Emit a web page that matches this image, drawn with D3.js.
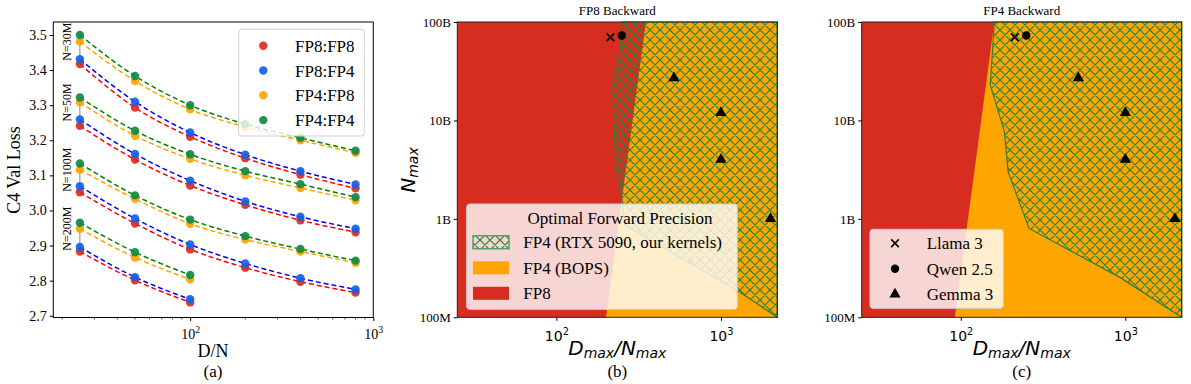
<!DOCTYPE html>
<html>
<head>
<meta charset="utf-8">
<script src="https://cdn.jsdelivr.net/npm/d3@7"></script>
<style>
  body { margin: 0; background: #fff; }
  svg { display: block; }
  .serif { font-family: "Liberation Serif", "Times New Roman", serif; }
  .math { font-family: "DejaVu Sans", sans-serif; }
</style>
</head>
<body>
<div id="chart"></div>
<script>
// ---- data ----
var ratios = [25, 50, 100, 200, 400, 800];
var configs = ["FP8:FP8", "FP8:FP4", "FP4:FP8", "FP4:FP4"];
var sizeLabels = ["N=30M", "N=50M", "N=100M", "N=200M"];

// C4 val loss, one row per config (same order as configs)
var loss30M = [
  [3.417, 3.293, 3.210, 3.149, 3.102, 3.063],
  [3.431, 3.310, 3.222, 3.159, 3.112, 3.074],
  [3.481, 3.369, 3.288, 3.238, 3.200, 3.164],
  [3.500, 3.383, 3.300, 3.246, 3.207, 3.170]
];
var loss50M = [
  [3.241, 3.145, 3.071, 3.016, 2.972, 2.938],
  [3.259, 3.161, 3.085, 3.026, 2.982, 2.948],
  [3.308, 3.213, 3.147, 3.100, 3.064, 3.029],
  [3.322, 3.227, 3.160, 3.112, 3.075, 3.038]
];
var loss100M = [
  [3.052, 2.963, 2.889, 2.837, 2.797, 2.766],
  [3.069, 2.977, 2.903, 2.849, 2.807, 2.775],
  [3.116, 3.033, 2.962, 2.917, 2.883, 2.851],
  [3.134, 3.043, 2.974, 2.927, 2.890, 2.857]
];
var loss200M = [
  [2.883, 2.801, 2.738],
  [2.896, 2.810, 2.747],
  [2.948, 2.866, 2.804],
  [2.965, 2.881, 2.816]
];
var lossGroups = [loss30M, loss50M, loss100M, loss200M];
var yTicksA = [2.7, 2.8, 2.9, 3.0, 3.1, 3.2, 3.3, 3.4, 3.5];

// precision regions, [D/N, N]
var redEdgeB = [[350, 1e11], [200, 1e8]];
var hatchB = [[249, 1e11], [245, 5.4e10], [221, 2.2e10], [223, 1.0e10], [230, 3.5e9],
              [243, 2.5e9], [260, 8.7e8], [1305, 1.8e8], [2200, 1e8], [2200, 1e11]];
var redEdgeC = [[160, 1e11], [92, 1e8]];
var hatchC = [[160, 1e11], [151, 2.3e10], [184, 7.7e9], [194, 3.0e9], [260, 8.0e8],
              [942, 2.5e8], [2200, 1e8], [2200, 1e11]];

var modelNames = ["Llama 3", "Qwen 2.5", "Gemma 3"];
var llamaPts = [[213, 7.0e10]];
var qwenPts = [[250, 7.3e10]];
var gemmaPts = [[518, 2.7e10], [1000, 1.2e10], [1000, 4e9], [2000, 1e9]];

var nTicks = [1e8, 1e9, 1e10, 1e11];
var nTickLabels = ["100M", "1B", "10B", "100B"];
var regionLabels = ["FP4 (RTX 5090, our kernels)", "FP4 (BOPS)", "FP8"];

// ---- colours ----
var dotColors = ["#dc2b20", "#1560e6", "#ffa500", "#0f8a44"];
var lineColors = ["#ff0000", "#0000ff", "#ffa500", "#008000"];
var redFill = "#d62d20", orangeFill = "#ffa500", hatchColor = "#2f7f36";

var svg = d3.select("#chart").append("svg")
  .attr("width", 1191).attr("height", 384);

var defs = svg.append("defs");
var pat = defs.append("pattern")
  .attr("id", "xhatch")
  .attr("patternUnits", "userSpaceOnUse")
  .attr("width", 10).attr("height", 10);
pat.append("path")
  .attr("d", "M0,0L10,10M10,0L0,10M-2,8L2,12M8,-2L12,2M-2,2L2,-2M8,12L12,8")
  .attr("stroke", hatchColor).attr("stroke-width", 1.2).attr("fill", "none");

function supLabel(sel, fam, size) {
  sel.each(function(d) {
    var t = d3.select(this).text("");
    t.attr("class", fam).attr("font-size", size).attr("fill", "#000");
    t.append("tspan").text("10");
    t.append("tspan").attr("dy", -size * 0.45).attr("font-size", size * 0.7)
      .text(Math.round(Math.log10(d)));
  });
}

// x marker is a stroked symbol
function drawCross(g, cx, cy) {
  g.append("path").attr("transform", `translate(${cx},${cy})`)
    .attr("d", d3.symbol().type(d3.symbolTimes).size(40)())
    .attr("fill", "none").attr("stroke", "#000").attr("stroke-width", 1.7);
}

// ================= panel (a) =================
var xA = d3.scaleLog().domain([17.9, 1000]).range([53.3, 373.3]);
var yA = d3.scaleLinear().domain([2.695, 3.537]).range([317.5, 22]);
var gA = svg.append("g");

var line = d3.line().x(d => xA(d[0])).y(d => yA(d[1])).curve(d3.curveMonotoneX);

lossGroups.forEach(function(group, gi) {
  var xs = ratios.slice(0, group[0].length);
  var first = group.map(r => r[0]);
  // gray connector at the first ratio
  gA.append("line")
    .attr("x1", xA(xs[0])).attr("x2", xA(xs[0]))
    .attr("y1", yA(d3.max(first))).attr("y2", yA(d3.min(first)))
    .attr("stroke", "#888").attr("stroke-width", 1);
  group.forEach(function(vals, ci) {
    var pts = xs.map((x, i) => [x, vals[i]]);
    gA.append("path").datum(pts)
      .attr("d", line)
      .attr("fill", "none")
      .attr("stroke", lineColors[ci])
      .attr("stroke-width", 1.5)
      .attr("stroke-dasharray", "5,3");
  });
  group.forEach(function(vals, ci) {
    gA.selectAll(null).data(xs.map((x, i) => [x, vals[i]])).enter()
      .append("circle")
      .attr("cx", d => xA(d[0])).attr("cy", d => yA(d[1]))
      .attr("r", 4.2)
      .attr("fill", dotColors[ci]).attr("opacity", 0.92);
  });
  // size label sits at the FP4:FP8 first point height
  var ly = yA(group[2][0]);
  gA.append("text").attr("class", "serif")
    .attr("font-size", 12)
    .attr("transform", `translate(${xA(xs[0]) - 9},${ly}) rotate(-90)`)
    .attr("text-anchor", "middle")
    .text(sizeLabels[gi]);
});

gA.append("g").attr("transform", "translate(0,317.5)")
  .call(d3.axisBottom(xA).tickValues([100, 1000]).tickSize(3.5).tickSizeOuter(0))
  .call(g => g.select(".domain").remove())
  .call(g => g.selectAll(".tick text").attr("dy", "1.1em").call(supLabel, "serif", 14));
var minorA = [20, 30, 40, 50, 60, 70, 80, 90, 200, 300, 400, 500, 600, 700, 800, 900];
gA.append("g").selectAll("line").data(minorA).enter().append("line")
  .attr("x1", d => xA(d)).attr("x2", d => xA(d))
  .attr("y1", 317.5).attr("y2", 319.5).attr("stroke", "#000").attr("stroke-width", 0.7);

gA.append("g").attr("transform", "translate(53.3,0)")
  .call(d3.axisLeft(yA).tickValues(yTicksA).tickFormat(d3.format(".1f")).tickSize(3.5).tickSizeOuter(0))
  .call(g => g.select(".domain").remove())
  .call(g => g.selectAll(".tick text").attr("class", "serif").attr("font-size", 14).attr("fill", "#000"));

gA.append("rect").attr("x", 53.3).attr("y", 22).attr("width", 320).attr("height", 295.5)
  .attr("fill", "none").attr("stroke", "#000").attr("stroke-width", 1);

gA.append("text").attr("class", "serif").attr("font-size", 18)
  .attr("transform", "translate(20,170) rotate(-90)").attr("text-anchor", "middle")
  .text("C4 Val Loss");
gA.append("text").attr("class", "serif").attr("font-size", 18)
  .attr("x", 213).attr("y", 357).attr("text-anchor", "middle").text("D/N");
gA.append("text").attr("class", "serif").attr("font-size", 17)
  .attr("x", 213).attr("y", 377).attr("text-anchor", "middle").text("(a)");

// legend (a)
var legA = gA.append("g");
legA.append("rect").attr("x", 238.7).attr("y", 29.3).attr("width", 125.6).attr("height", 106.7)
  .attr("rx", 3).attr("fill", "#fff").attr("fill-opacity", 0.8)
  .attr("stroke", "#d0d0d0");
configs.forEach(function(c, i) {
  var y = 45.7 + i * 24.8;
  legA.append("circle").attr("cx", 263.3).attr("cy", y).attr("r", 4.2)
    .attr("fill", dotColors[i]).attr("opacity", 0.92);
  legA.append("text").attr("class", "serif").attr("font-size", 17)
    .attr("x", 295).attr("y", y + 6).text(c);
});

// ================= panels (b) and (c) =================
function regionPanel(opt) {
  var x = d3.scaleLog().domain([25, 2200]).range([opt.x0, opt.x0 + 320]);
  var y = d3.scaleLog().domain([1e8, 1e11]).range([317.3, 22]);
  var g = svg.append("g");
  var poly = d3.line().x(d => x(d[0])).y(d => y(d[1]));

  g.append("rect").attr("x", opt.x0).attr("y", 22).attr("width", 320).attr("height", 295.3)
    .attr("fill", orangeFill);
  var red = [[25, 1e11]].concat(opt.redEdge).concat([[25, 1e8]]);
  g.append("path").attr("d", poly(red) + "Z").attr("fill", redFill);
  g.append("path").attr("d", poly(opt.hatch) + "Z")
    .attr("fill", "url(#xhatch)").attr("stroke", hatchColor).attr("stroke-width", 1.2);

  // model markers
  llamaPts.forEach(d => drawCross(g, x(d[0]), y(d[1])));
  g.selectAll(null).data(qwenPts).enter().append("circle")
    .attr("cx", d => x(d[0])).attr("cy", d => y(d[1])).attr("r", 4.2).attr("fill", "#000");
  var tri = d3.symbol().type(d3.symbolTriangle).size(55);
  g.selectAll(null).data(gemmaPts).enter().append("path")
    .attr("transform", d => `translate(${x(d[0])},${y(d[1])})`)
    .attr("d", tri).attr("fill", "#000");

  g.append("rect").attr("x", opt.x0).attr("y", 22).attr("width", 320).attr("height", 295.3)
    .attr("fill", "none").attr("stroke", "#222").attr("stroke-width", 1);

  g.append("g").attr("transform", "translate(0,317.3)")
    .call(d3.axisBottom(x).tickValues([100, 1000]).tickSize(3.5).tickSizeOuter(0))
    .call(s => s.select(".domain").remove())
    .call(s => s.selectAll(".tick text").attr("dy", "1.25em").call(supLabel, "math", 14));
  g.append("g").attr("transform", `translate(${opt.x0},0)`)
    .call(d3.axisLeft(y).tickValues(nTicks).tickFormat((d, i) => nTickLabels[i]).tickSize(3.5).tickSizeOuter(0))
    .call(s => s.select(".domain").remove())
    .call(s => s.selectAll(".tick text").attr("class", "serif").attr("font-size", 13).attr("fill", "#000"));

  var cx = opt.x0 + 160;
  g.append("text").attr("class", "serif").attr("font-size", 13)
    .attr("x", cx).attr("y", 15).attr("text-anchor", "middle").text(opt.title);
  var xl = g.append("text").attr("class", "math").attr("font-size", 20)
    .attr("x", cx).attr("y", 355).attr("text-anchor", "middle");
  xl.append("tspan").attr("font-style", "italic").text("D");
  xl.append("tspan").attr("font-style", "italic").attr("font-size", 14).attr("dy", 3).text("max");
  xl.append("tspan").attr("font-style", "italic").attr("dy", -3).text("/N");
  xl.append("tspan").attr("font-style", "italic").attr("font-size", 14).attr("dy", 3).text("max");
  g.append("text").attr("class", "serif").attr("font-size", 17)
    .attr("x", cx).attr("y", 377).attr("text-anchor", "middle").text(opt.tag);
  return { g: g, x: x, y: y };
}

var pB = regionPanel({ x0: 457.3, redEdge: redEdgeB, hatch: hatchB, title: "FP8 Backward", tag: "(b)" });
var pC = regionPanel({ x0: 861.7, redEdge: redEdgeC, hatch: hatchC, title: "FP4 Backward", tag: "(c)" });

// y label on (b)
var yl = pB.g.append("text").attr("class", "math").attr("font-size", 20)
  .attr("transform", "translate(415,170) rotate(-90)").attr("text-anchor", "middle");
yl.append("tspan").attr("font-style", "italic").text("N");
yl.append("tspan").attr("font-style", "italic").attr("font-size", 14).attr("dy", 3).text("max");

// legend (b)
var legB = pB.g.append("g");
legB.append("rect").attr("x", 466.7).attr("y", 204).attr("width", 270.6).attr("height", 105.3)
  .attr("rx", 3).attr("fill", "#fff").attr("fill-opacity", 0.8).attr("stroke", "#d0d0d0");
legB.append("text").attr("class", "serif").attr("font-size", 17)
  .attr("x", 620).attr("y", 223.5).attr("text-anchor", "middle").text("Optimal Forward Precision");
var patchFills = ["url(#xhatch)", orangeFill, redFill];
regionLabels.forEach(function(lab, i) {
  var y = 242.3 + i * 25.5;
  legB.append("rect").attr("x", 473).attr("y", y - 6.5).attr("width", 36).attr("height", 13)
    .attr("fill", patchFills[i])
    .attr("stroke", i === 0 ? "#2e9a50" : "none").attr("stroke-width", 1.2);
  legB.append("text").attr("class", "serif").attr("font-size", 17)
    .attr("x", 523.3).attr("y", y + 6).text(lab);
});

// legend (c)
var legC = pC.g.append("g");
legC.append("rect").attr("x", 870).attr("y", 229.3).attr("width", 133.3).attr("height", 79)
  .attr("rx", 3).attr("fill", "#fff").attr("fill-opacity", 0.8).attr("stroke", "#d0d0d0");
modelNames.forEach(function(m, i) {
  var y = 243.3 + i * 25.5;
  if (i === 0) drawCross(legC, 895, y);
  else if (i === 1) legC.append("circle").attr("cx", 895).attr("cy", y).attr("r", 4.2).attr("fill", "#000");
  else legC.append("path").attr("transform", `translate(895,${y})`)
    .attr("d", d3.symbol().type(d3.symbolTriangle).size(55)()).attr("fill", "#000");
  legC.append("text").attr("class", "serif").attr("font-size", 17)
    .attr("x", 926.7).attr("y", y + 6).text(m);
});
</script>
</body>
</html>
